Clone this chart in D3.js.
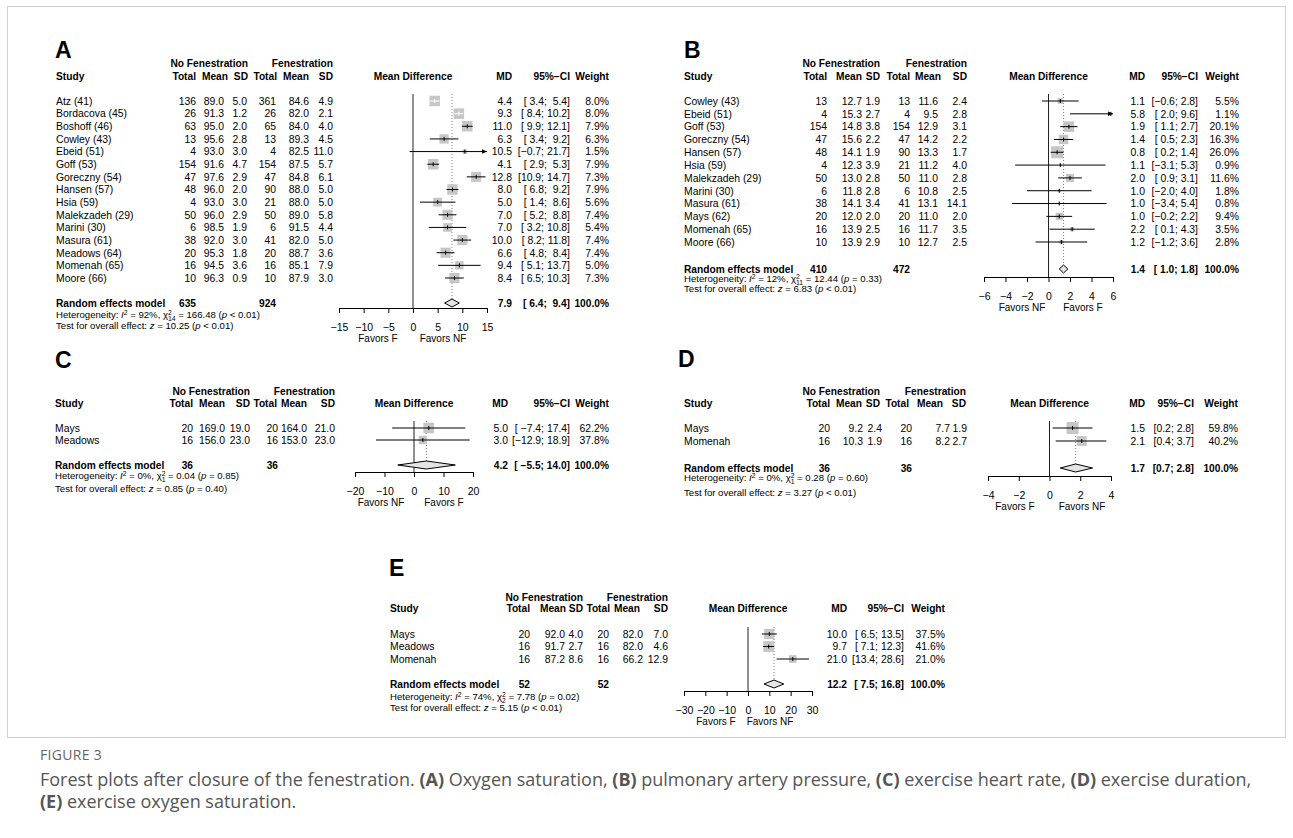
<!DOCTYPE html>
<html lang="en">
<head>
<meta charset="utf-8">
<title>Forest plots after closure of the fenestration</title>
<script src="https://d3js.org/d3.v7.min.js"></script>
<style>
  body { margin: 0; background: #fff; }
  svg text { font-family: "Liberation Sans", Arial, sans-serif; fill: #000; white-space: pre; }
  .hd { font-weight: bold; font-size: 10.2px; }
  .row { font-size: 10.4px; }
  .het { font-size: 9.6px; }
  .fav { font-size: 10px; }
  .letter { font-weight: bold; font-size: 23px; }
  .cap { font-family: "Open Sans", sans-serif; font-size: 18px; }
</style>
</head>
<body>
<div id="container"></div>
<script>
// ---- A: oxygen saturation ----
const studiesA = ["Atz (41)", "Bordacova (45)", "Boshoff (46)", "Cowley (43)", "Ebeid (51)", "Goff (53)", "Goreczny (54)",
  "Hansen (57)", "Hsia (59)", "Malekzadeh (29)", "Marini (30)", "Masura (61)", "Meadows (64)", "Momenah (65)", "Moore (66)"];
const nfTotalA = [136, 26, 63, 13, 4, 154, 47, 48, 4, 50, 6, 38, 20, 16, 10];
const nfMeanA = [89.0, 91.3, 95.0, 95.6, 93.0, 91.6, 97.6, 96.0, 93.0, 96.0, 98.5, 92.0, 95.3, 94.5, 96.3];
const nfSdA = [5.0, 1.2, 2.0, 2.8, 3.0, 4.7, 2.9, 2.0, 3.0, 2.9, 1.9, 3.0, 1.8, 3.6, 0.9];
const fTotalA = [361, 26, 65, 13, 4, 154, 47, 90, 21, 50, 6, 41, 20, 16, 10];
const fMeanA = [84.6, 82.0, 84.0, 89.3, 82.5, 87.5, 84.8, 88.0, 88.0, 89.0, 91.5, 82.0, 88.7, 85.1, 87.9];
const fSdA = [4.9, 2.1, 4.0, 4.5, 11.0, 5.7, 6.1, 5.0, 5.0, 5.8, 4.4, 5.0, 3.6, 7.9, 3.0];
const mdA = [4.4, 9.3, 11.0, 6.3, 10.5, 4.1, 12.8, 8.0, 5.0, 7.0, 7.0, 10.0, 6.6, 9.4, 8.4];
const loA = [3.4, 8.4, 9.9, 3.4, -0.7, 2.9, 10.9, 6.8, 1.4, 5.2, 3.2, 8.2, 4.8, 5.1, 6.5];
const hiA = [5.4, 10.2, 12.1, 9.2, 21.7, 5.3, 14.7, 9.2, 8.6, 8.8, 10.8, 11.8, 8.4, 13.7, 10.3];
const weightA = [8.0, 8.0, 7.9, 6.3, 1.5, 7.9, 7.3, 7.9, 5.6, 7.4, 5.4, 7.4, 7.4, 5.0, 7.3];
const pooledA = [7.9, 6.4, 9.4];
const totalsA = [635, 924];
const hetA = ["92%", "14", "166.48", "< 0.01"];
const testA = ["10.25", "< 0.01"];
const ticksA = [-15, -10, -5, 0, 5, 10, 15];
const favorsA = ["Favors F", "Favors NF"];

// ---- B: pulmonary artery pressure ----
const studiesB = ["Cowley (43)", "Ebeid (51)", "Goff (53)", "Goreczny (54)", "Hansen (57)", "Hsia (59)", "Malekzadeh (29)",
  "Marini (30)", "Masura (61)", "Mays (62)", "Momenah (65)", "Moore (66)"];
const nfTotalB = [13, 4, 154, 47, 48, 4, 50, 6, 38, 20, 16, 10];
const nfMeanB = [12.7, 15.3, 14.8, 15.6, 14.1, 12.3, 13.0, 11.8, 14.1, 12.0, 13.9, 13.9];
const nfSdB = [1.9, 2.7, 3.8, 2.2, 1.9, 3.9, 2.8, 2.8, 3.4, 2.0, 2.5, 2.9];
const fTotalB = [13, 4, 154, 47, 90, 21, 50, 6, 41, 20, 16, 10];
const fMeanB = [11.6, 9.5, 12.9, 14.2, 13.3, 11.2, 11.0, 10.8, 13.1, 11.0, 11.7, 12.7];
const fSdB = [2.4, 2.8, 3.1, 2.2, 1.7, 4.0, 2.8, 2.5, 14.1, 2.0, 3.5, 2.5];
const mdB = [1.1, 5.8, 1.9, 1.4, 0.8, 1.1, 2.0, 1.0, 1.0, 1.0, 2.2, 1.2];
const loB = [-0.6, 2.0, 1.1, 0.5, 0.2, -3.1, 0.9, -2.0, -3.4, -0.2, 0.1, -1.2];
const hiB = [2.8, 9.6, 2.7, 2.3, 1.4, 5.3, 3.1, 4.0, 5.4, 2.2, 4.3, 3.6];
const weightB = [5.5, 1.1, 20.1, 16.3, 26.0, 0.9, 11.6, 1.8, 0.8, 9.4, 3.5, 2.8];
const pooledB = [1.4, 1.0, 1.8];
const totalsB = [410, 472];
const hetB = ["12%", "11", "12.44", "= 0.33"];
const testB = ["6.83", "< 0.01"];
const ticksB = [-6, -4, -2, 0, 2, 4, 6];
const favorsB = ["Favors NF", "Favors F"];

// ---- C: exercise heart rate ----
const studiesC = ["Mays", "Meadows"];
const nfTotalC = [20, 16];
const nfMeanC = [169.0, 156.0];
const nfSdC = [19.0, 23.0];
const fTotalC = [20, 16];
const fMeanC = [164.0, 153.0];
const fSdC = [21.0, 23.0];
const mdC = [5.0, 3.0];
const loC = [-7.4, -12.9];
const hiC = [17.4, 18.9];
const weightC = [62.2, 37.8];
const pooledC = [4.2, -5.5, 14.0];
const totalsC = [36, 36];
const hetC = ["0%", "1", "0.04", "= 0.85"];
const testC = ["0.85", "= 0.40"];
const ticksC = [-20, -10, 0, 10, 20];
const favorsC = ["Favors NF", "Favors F"];

// ---- D: exercise duration ----
const studiesD = ["Mays", "Momenah"];
const nfTotalD = [20, 16];
const nfMeanD = [9.2, 10.3];
const nfSdD = [2.4, 1.9];
const fTotalD = [20, 16];
const fMeanD = [7.7, 8.2];
const fSdD = [1.9, 2.7];
const mdD = [1.5, 2.1];
const loD = [0.2, 0.4];
const hiD = [2.8, 3.7];
const weightD = [59.8, 40.2];
const pooledD = [1.7, 0.7, 2.8];
const totalsD = [36, 36];
const hetD = ["0%", "1", "0.28", "= 0.60"];
const testD = ["3.27", "< 0.01"];
const ticksD = [-4, -2, 0, 2, 4];
const favorsD = ["Favors F", "Favors NF"];

// ---- E: exercise oxygen saturation ----
const studiesE = ["Mays", "Meadows", "Momenah"];
const nfTotalE = [20, 16, 16];
const nfMeanE = [92.0, 91.7, 87.2];
const nfSdE = [4.0, 2.7, 8.6];
const fTotalE = [20, 16, 16];
const fMeanE = [82.0, 82.0, 66.2];
const fSdE = [7.0, 4.6, 12.9];
const mdE = [10.0, 9.7, 21.0];
const loE = [6.5, 7.1, 13.4];
const hiE = [13.5, 12.3, 28.6];
const weightE = [37.5, 41.6, 21.0];
const pooledE = [12.2, 7.5, 16.8];
const totalsE = [52, 52];
const hetE = ["74%", "2", "7.78", "= 0.02"];
const testE = ["5.15", "< 0.01"];
const ticksE = [-30, -20, -10, 0, 10, 20, 30];
const favorsE = ["Favors F", "Favors NF"];

const W = 1293, H = 838;
const svg = d3.select("#container").append("svg").attr("width", W).attr("height", H);

svg.append("rect").attr("x", 7.5).attr("y", 6.5).attr("width", 1278).attr("height", 731)
  .attr("fill", "none").attr("stroke", "#cfcfcf");

const MINUS = "\u2212";
function f1(v) { return (v < 0 ? MINUS : "") + Math.abs(v).toFixed(1); }

function drawPanel(p, L) {
  const g = svg.append("g");
  const n = p.studies.length;
  const b = 3.8; // baseline shift from text centre
  const y = d3.scaleLinear().domain([0, n - 1]).range([L.row0, L.row1]);
  const x = d3.scaleLinear().domain([p.ticks[0], p.ticks[p.ticks.length - 1]]).range(L.xr);
  const dom = x.domain();

  g.append("text").attr("class", "letter").attr("x", L.letter[0]).attr("y", L.letter[1]).text(p.letter);

  // headers
  g.append("text").attr("class", "hd").attr("x", L.hx[2]).attr("y", L.grpY + b).attr("text-anchor", "end").text("No Fenestration");
  g.append("text").attr("class", "hd").attr("x", L.hx[5]).attr("y", L.grpY + b).attr("text-anchor", "end").text("Fenestration");
  g.append("text").attr("class", "hd").attr("x", L.studyX).attr("y", L.hdY + b).text("Study");
  ["Total", "Mean", "SD", "Total", "Mean", "SD"].forEach((t, i) => {
    g.append("text").attr("class", "hd").attr("x", L.hx[i]).attr("y", L.hdY + b).attr("text-anchor", "end").text(t);
  });
  g.append("text").attr("class", "hd").attr("x", x(0)).attr("y", L.hdY + b).attr("text-anchor", "middle").text("Mean Difference");
  ["MD", "95%" + MINUS + "CI", "Weight"].forEach((t, i) => {
    g.append("text").attr("class", "hd").attr("x", L.rx[i]).attr("y", L.hdY + b).attr("text-anchor", "end").text(t);
  });

  // CI strings padded like meta does
  const los = p.lo.concat([p.pooled[1]]).map(f1), his = p.hi.concat([p.pooled[2]]).map(f1);
  const wl = d3.max(los, s => s.length), wh = d3.max(his, s => s.length);
  const ci = (lo, hi) => "[" + f1(lo).padStart(wl) + "; " + f1(hi).padStart(wh) + "]";

  const cols = [p.nfTotal, p.nfMean, p.nfSd, p.fTotal, p.fMean, p.fSd];
  p.studies.forEach((s, i) => {
    const yy = y(i) + b;
    g.append("text").attr("class", "row").attr("x", L.studyX).attr("y", yy).text(s);
    cols.forEach((c, j) => {
      const v = (j === 0 || j === 3) ? String(c[i]) : f1(c[i]);
      g.append("text").attr("class", "row").attr("x", L.vx[j]).attr("y", yy).attr("text-anchor", "end").text(v);
    });
    g.append("text").attr("class", "row").attr("x", L.rx[0]).attr("y", yy).attr("text-anchor", "end").text(f1(p.md[i]));
    g.append("text").attr("class", "row").attr("x", L.rx[1]).attr("y", yy).attr("text-anchor", "end").text(ci(p.lo[i], p.hi[i]));
    g.append("text").attr("class", "row").attr("x", L.rx[2]).attr("y", yy).attr("text-anchor", "end").text(p.weight[i].toFixed(1) + "%");
  });

  // pooled row
  const py = L.poolY + b;
  g.append("text").attr("class", "hd").attr("x", L.studyX).attr("y", py).text("Random effects model");
  g.append("text").attr("class", "hd").attr("x", L.vx[0]).attr("y", py).attr("text-anchor", "end").text(p.totals[0]);
  g.append("text").attr("class", "hd").attr("x", L.vx[3]).attr("y", py).attr("text-anchor", "end").text(p.totals[1]);
  g.append("text").attr("class", "hd").attr("x", L.rx[0]).attr("y", py).attr("text-anchor", "end").text(f1(p.pooled[0]));
  g.append("text").attr("class", "hd").attr("x", L.rx[1]).attr("y", py).attr("text-anchor", "end").text(ci(p.pooled[1], p.pooled[2]));
  g.append("text").attr("class", "hd").attr("x", L.rx[2]).attr("y", py).attr("text-anchor", "end").text("100.0%");

  // heterogeneity
  const h = g.append("text").attr("class", "het").attr("x", L.studyX).attr("y", L.hetY + 3.4);
  h.append("tspan").text("Heterogeneity: ");
  h.append("tspan").style("font-style", "italic").text("I");
  h.append("tspan").attr("dy", -3.8).style("font-size", "6.8px").text("2");
  h.append("tspan").attr("dy", 3.8).text(" = " + p.het[0] + ", \u03c7");
  h.append("tspan").attr("dy", -3.8).style("font-size", "6.8px").text("2");
  h.append("tspan").attr("dx", -3.8).attr("dy", 6.3).style("font-size", "6.8px").text(p.het[1]);
  h.append("tspan").attr("dy", -2.5).text(" = " + p.het[2] + " (");
  h.append("tspan").style("font-style", "italic").text("p");
  h.append("tspan").text(" " + p.het[3] + ")");

  const t = g.append("text").attr("class", "het").attr("x", L.studyX).attr("y", L.testY + 3.4);
  t.append("tspan").text("Test for overall effect: ");
  t.append("tspan").style("font-style", "italic").text("z");
  t.append("tspan").text(" = " + p.test[0] + " (");
  t.append("tspan").style("font-style", "italic").text("p");
  t.append("tspan").text(" " + p.test[1] + ")");

  // plot
  const top = L.row0 - 7;
  g.append("line").attr("x1", x(0)).attr("x2", x(0)).attr("y1", top).attr("y2", L.axisY)
    .attr("stroke", "#222").attr("stroke-width", 1);
  g.append("line").attr("x1", x(p.pooled[0])).attr("x2", x(p.pooled[0])).attr("y1", top).attr("y2", L.poolY - 4)
    .attr("stroke", "#808080").attr("stroke-dasharray", "1,2");

  const maxW = d3.max(p.weight);
  p.studies.forEach((s, i) => {
    const yi = y(i), cx = x(p.md[i]);
    const sz = L.box * Math.sqrt(p.weight[i] / maxW);
    g.append("rect").attr("x", cx - sz / 2).attr("y", yi - sz / 2).attr("width", sz).attr("height", sz).attr("fill", "#c6c6c6");
    const lo = Math.max(p.lo[i], dom[0]), hi = Math.min(p.hi[i], dom[1]);
    const col = (x(hi) - x(lo) <= sz) ? "#fff" : "#000";
    g.append("line").attr("x1", x(lo)).attr("x2", x(hi)).attr("y1", yi).attr("y2", yi).attr("stroke", col);
    g.append("line").attr("x1", cx).attr("x2", cx).attr("y1", yi - 2).attr("y2", yi + 2).attr("stroke", col);
    if (p.hi[i] > dom[1]) {
      const xe = x(dom[1]);
      g.append("path").attr("d", `M${xe},${yi}L${xe - 5},${yi - 2.2}L${xe - 5},${yi + 2.2}Z`).attr("fill", "#000");
    }
    if (p.lo[i] < dom[0]) {
      const xs = x(dom[0]);
      g.append("path").attr("d", `M${xs},${yi}L${xs + 5},${yi - 2.2}L${xs + 5},${yi + 2.2}Z`).attr("fill", "#000");
    }
  });

  const dy = L.poolY;
  g.append("path")
    .attr("d", `M${x(p.pooled[1])},${dy}L${x(p.pooled[0])},${dy - 4}L${x(p.pooled[2])},${dy}L${x(p.pooled[0])},${dy + 4}Z`)
    .attr("fill", "#e4e4e4").attr("stroke", "#000");

  const ax = g.append("g").attr("transform", `translate(0,${L.axisY})`)
    .call(d3.axisBottom(x).tickValues(p.ticks).tickSize(5).tickSizeOuter(0).tickPadding(10.3));
  ax.select(".domain").attr("stroke", "#000");
  ax.selectAll(".tick line").attr("stroke", "#000");
  ax.selectAll("text").attr("fill", "#000").style("font-size", "10.5px").style("font-family", "'Liberation Sans', Arial, sans-serif");

  g.append("text").attr("class", "fav").attr("x", L.favX[0]).attr("y", L.axisY + 33.5).attr("text-anchor", "middle").text(p.favors[0]);
  g.append("text").attr("class", "fav").attr("x", L.favX[1]).attr("y", L.axisY + 33.5).attr("text-anchor", "middle").text(p.favors[1]);
}

function pack(letter, studies, nfTotal, nfMean, nfSd, fTotal, fMean, fSd, md, lo, hi, weight, pooled, totals, het, test, ticks, favors) {
  return { letter, studies, nfTotal, nfMean, nfSd, fTotal, fMean, fSd, md, lo, hi, weight, pooled, totals, het, test, ticks, favors };
}

drawPanel(pack("A", studiesA, nfTotalA, nfMeanA, nfSdA, fTotalA, fMeanA, fSdA, mdA, loA, hiA, weightA, pooledA, totalsA, hetA, testA, ticksA, favorsA),
  { letter: [55, 58], studyX: 56, grpY: 63, hdY: 76, hx: [196, 228, 248, 277, 309, 333], vx: [196, 224, 247, 276, 309, 333],
    rx: [512, 570, 609], row0: 101, row1: 278, poolY: 303, hetY: 315, testY: 326, xr: [339, 487], axisY: 308, favX: [378, 443], box: 10.5 });

drawPanel(pack("B", studiesB, nfTotalB, nfMeanB, nfSdB, fTotalB, fMeanB, fSdB, mdB, loB, hiB, weightB, pooledB, totalsB, hetB, testB, ticksB, favorsB),
  { letter: [684, 58], studyX: 684, grpY: 63, hdY: 76, hx: [827, 862, 880, 910, 941, 967], vx: [827, 862, 880, 910, 938, 967],
    rx: [1145, 1198, 1239], row0: 101, row1: 242, poolY: 269, hetY: 279, testY: 289, xr: [984, 1113], axisY: 277, favX: [1022, 1083], box: 12 });

drawPanel(pack("C", studiesC, nfTotalC, nfMeanC, nfSdC, fTotalC, fMeanC, fSdC, mdC, loC, hiC, weightC, pooledC, totalsC, hetC, testC, ticksC, favorsC),
  { letter: [55, 368], studyX: 55, grpY: 391, hdY: 403, hx: [193, 225, 250, 277, 307, 335], vx: [193, 225, 250, 278, 307, 335],
    rx: [508, 570, 609], row0: 428, row1: 440, poolY: 465, hetY: 476, testY: 489, xr: [355, 473], axisY: 472, favX: [381, 444], box: 10.7 });

drawPanel(pack("D", studiesD, nfTotalD, nfMeanD, nfSdD, fTotalD, fMeanD, fSdD, mdD, loD, hiD, weightD, pooledD, totalsD, hetD, testD, ticksD, favorsD),
  { letter: [678, 367], studyX: 684, grpY: 391, hdY: 403, hx: [830, 862, 880, 909, 943, 966], vx: [830, 863, 882, 912, 950, 967],
    rx: [1145, 1194, 1238], row0: 428, row1: 441, poolY: 468, hetY: 478, testY: 493, xr: [988, 1111], axisY: 476, favX: [1015, 1082], box: 12 });

drawPanel(pack("E", studiesE, nfTotalE, nfMeanE, nfSdE, fTotalE, fMeanE, fSdE, mdE, loE, hiE, weightE, pooledE, totalsE, hetE, testE, ticksE, favorsE),
  { letter: [389, 576], studyX: 390, grpY: 597, hdY: 608, hx: [530, 566, 583, 610, 640, 668], vx: [530, 565, 583, 609, 643, 668],
    rx: [847, 904, 945], row0: 634, row1: 659, poolY: 684, hetY: 697, testY: 708, xr: [684, 812], axisY: 691, favX: [716, 770], box: 10.8 });

// caption
svg.append("text").attr("class", "cap").attr("x", 40).attr("y", 760).style("font-size", "14px").style("fill", "#666")
  .style("letter-spacing", "0.3px").text("FIGURE 3");
const capLines = [
  [["Forest plots after closure of the fenestration. ", 0], ["(A)", 1], [" Oxygen saturation, ", 0], ["(B)", 1], [" pulmonary artery pressure, ", 0],
   ["(C)", 1], [" exercise heart rate, ", 0], ["(D)", 1], [" exercise duration,", 0]],
  [["(E)", 1], [" exercise oxygen saturation.", 0]]
];
capLines.forEach((parts, k) => {
  const c = svg.append("text").attr("class", "cap").attr("x", 40).attr("y", 786 + k * 22).style("fill", "#555");
  parts.forEach(pt => c.append("tspan").style("font-weight", pt[1] ? "bold" : "normal").text(pt[0]));
});
</script>
</body>
</html>
